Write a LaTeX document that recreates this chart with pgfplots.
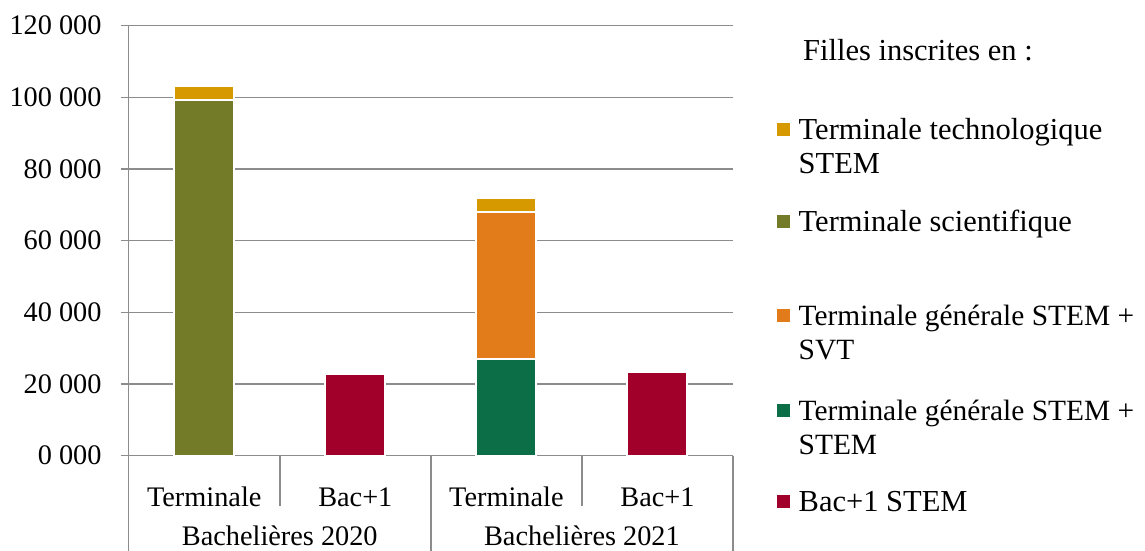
\documentclass[border=0pt]{standalone}
\usepackage{pgfplots}
\pgfplotsset{compat=1.18}
\usepackage{fontspec}
\setmainfont{Liberation Serif}
\definecolor{cYel}{RGB}{214,154,0}
\definecolor{cOli}{RGB}{115,122,40}
\definecolor{cOra}{RGB}{226,124,26}
\definecolor{cGre}{RGB}{11,110,70}
\definecolor{cRed}{RGB}{160,0,42}
\definecolor{cGrid}{RGB}{140,140,140}
\begin{document}
\begin{tikzpicture}
\path[use as bounding box] (0,0) rectangle (1145pt,551pt);
\begin{axis}[
  at={(128.7pt,95.3pt)}, anchor=south west,
  scale only axis, width=604.3pt, height=430pt,
  xmin=-0.5, xmax=3.5, ymin=0, ymax=120000,
  ybar stacked, bar width=60pt,
  clip=false,
  axis x line*=bottom, axis y line*=left,
  axis line style={cGrid, line width=1.5pt},
  xtick={0,1,2,3}, xticklabels={Terminale,Bac+1,Terminale,Bac+1},
  xtick style={draw=none},
  ytick={0,20000,...,120000},
  yticklabels={0 000,20 000,40 000,60 000,80 000,100 000,120 000},
  scaled y ticks=false,
  tick align=outside, major tick length=8pt,
  ytick style={cGrid, line width=1.5pt},
  ymajorgrids, grid style={cGrid, line width=1.5pt},
  tick label style={font=\fontsize{28.3}{34}\selectfont, inner sep=0pt},
  yticklabel style={anchor=east, xshift=-19pt},
  xticklabel style={anchor=base, yshift=-42.6pt},
  every axis plot/.append style={draw=white, line width=2pt},
  reverse legend,
  legend style={draw=none, fill=none, inner sep=0pt, outer sep=0pt,
    at={(1.0723,0.7912)}, anchor=north west,
    font=\fontsize{30.5}{34}\selectfont,
    row sep=69.2pt, column sep=9pt,
    nodes={inner sep=0pt, outer sep=0pt},
    cells={anchor=base west}},
  legend image code/.code={\fill[#1, draw=none] (0pt,3.5pt) rectangle (13pt,16.5pt);},
]
\addplot[fill=cRed] coordinates {(0,0) (1,22700) (2,0) (3,23400)};
\addlegendentry{Bac+1 STEM}
\addplot[fill=cGre] coordinates {(0,0) (1,0) (2,26900) (3,0)};
\addlegendentry{\fontsize{29.4}{34}\selectfont\begin{tabular}[t]{@{}l@{}}Terminale générale STEM +\\STEM\end{tabular}}
\addplot[fill=cOra] coordinates {(0,0) (1,0) (2,41200) (3,0)};
\addlegendentry{\fontsize{29.4}{34}\selectfont\begin{tabular}[t]{@{}l@{}}Terminale générale STEM +\\SVT\end{tabular}}
\addplot[fill=cOli] coordinates {(0,99300) (1,0) (2,0) (3,0)};
\addlegendentry{Terminale scientifique}
\addplot[fill=cYel] coordinates {(0,4000) (1,0) (2,3900) (3,0)};
\addlegendentry{\begin{tabular}[t]{@{}l@{}}Terminale technologique\\STEM\end{tabular}}
\node[anchor=base west, inner sep=0pt, font=\fontsize{30.5}{34}\selectfont] at (axis description cs:1.1158,0.9202) {Filles inscrites en :};
\draw[cGrid, line width=1.5pt] (axis cs:-0.5,0) -- (axis cs:3.5,0);
\draw[cGrid, line width=1.5pt] (axis cs:-0.5,0) -- ++(0pt,-95.3pt);
\draw[cGrid, line width=1.5pt] (axis cs:0.5,0) -- ++(0pt,-50pt);
\draw[cGrid, line width=1.5pt] (axis cs:1.5,0) -- ++(0pt,-95.3pt);
\draw[cGrid, line width=1.5pt] (axis cs:2.5,0) -- ++(0pt,-50pt);
\draw[cGrid, line width=1.5pt] (axis cs:3.5,0) -- ++(0pt,-95.3pt);
\node[anchor=base, inner sep=0pt, font=\fontsize{28.3}{34}\selectfont, yshift=-89.8pt] at (axis cs:0.5,0) {Bachelières 2020};
\node[anchor=base, inner sep=0pt, font=\fontsize{28.3}{34}\selectfont, yshift=-89.8pt] at (axis cs:2.5,0) {Bachelières 2021};
\end{axis}
\end{tikzpicture}
\end{document}
